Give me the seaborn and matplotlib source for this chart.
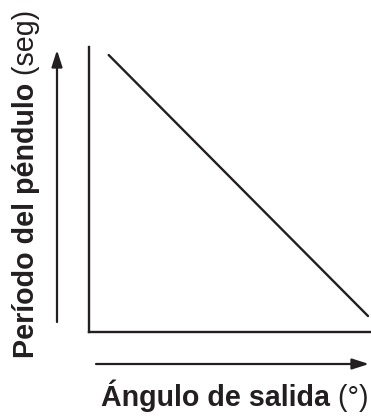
import pandas as pd
import matplotlib.pyplot as plt
import seaborn as sns

# Data: conceptual relation, period decreases as release angle grows
angulo = [0.7, 9.93]
periodo = [9.72, 0.56]

x_bold = "Ángulo de salida"
x_unit = " (°)"
y_bold = "Período del péndulo"
y_unit = " (seg)"

ink = "#231f20"

sns.set_style("white")
plt.rcParams["font.family"] = ["Liberation Sans", "DejaVu Sans"]

df = pd.DataFrame({"angulo": angulo, "periodo": periodo})

fig = plt.figure(figsize=(3.71, 4.17), dpi=100)
W, H = 371, 417
ax = fig.add_axes([89 / W, (H - 332) / H, 281 / W, 285 / H])

sns.lineplot(data=df, x="angulo", y="periodo", color=ink, lw=1.7, ax=ax)
ax.set_xlim(0, 10)
ax.set_ylim(0, 10)
ax.set_xticks([])
ax.set_yticks([])
ax.set_xlabel("")
ax.set_ylabel("")
sns.despine(ax=ax)
for s in ["left", "bottom"]:
    ax.spines[s].set_color(ink)
    ax.spines[s].set_linewidth(1.7)

# Axis arrows outside the frame
arrow = dict(arrowstyle="-|>,head_length=1.0,head_width=0.32", color=ink, lw=1.6,
             shrinkA=0, shrinkB=0)
ax.annotate("", xy=(57 / W, (H - 50) / H), xytext=(57 / W, (H - 322) / H),
            xycoords="figure fraction", arrowprops=arrow)
ax.annotate("", xy=(369 / W, (H - 364) / H), xytext=(96 / W, (H - 364) / H),
            xycoords="figure fraction", arrowprops=arrow)

fs = 20.6
fig.canvas.draw()
r = fig.canvas.get_renderer()

# x label: bold part + regular unit
t1 = fig.text(101 / W, 11 / H, x_bold, fontsize=fs, weight="bold", color=ink,
              ha="left", va="baseline")
bb = t1.get_window_extent(r)
fig.text(bb.x1 / W, 11 / H, x_unit, fontsize=fs, color=ink, ha="left", va="baseline")

# y label, rotated
t2 = fig.text(34 / W, 59 / H, y_bold, fontsize=fs, weight="bold", color=ink,
              rotation=90, rotation_mode="anchor", ha="left", va="baseline")
bb = t2.get_window_extent(r)
fig.text(34 / W, bb.y1 / H, y_unit, fontsize=fs, color=ink,
         rotation=90, rotation_mode="anchor", ha="left", va="baseline")

fig.savefig("out.png", dpi=100)
